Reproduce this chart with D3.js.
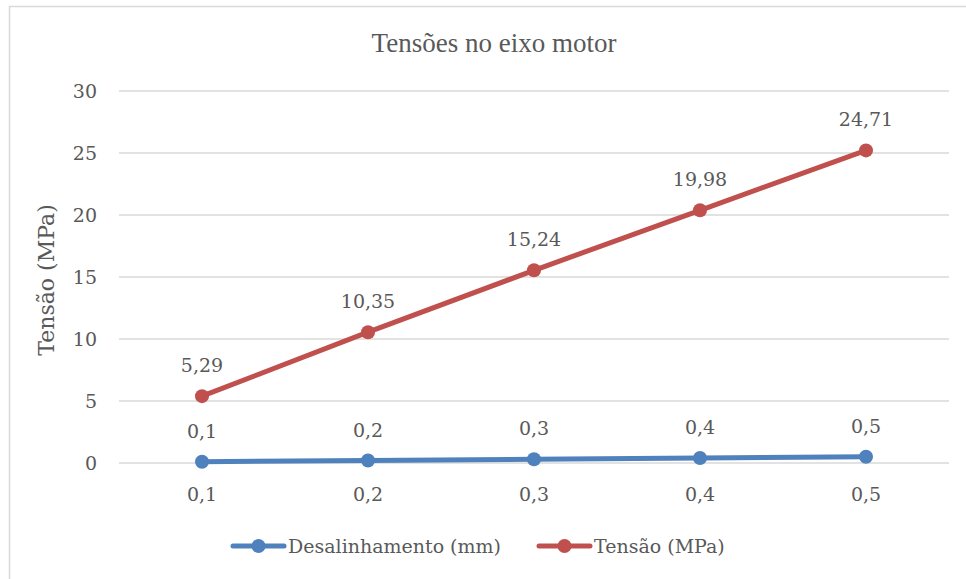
<!DOCTYPE html>
<meta charset="utf-8">
<script src="https://d3js.org/d3.v7.min.js"></script>
<style>
  body { margin: 0; background: #fff; }
  text { fill: #595959; }
</style>
<div id="chart"></div>
<script>
// data
const categories = ["0,1", "0,2", "0,3", "0,4", "0,5"];
const desalinhamento = [0.1, 0.2, 0.3, 0.4, 0.5];
const tensao = [5.29, 10.35, 15.24, 19.98, 24.71];
const yTicks = [0, 5, 10, 15, 20, 25, 30];
const seriesNames = ["Desalinhamento (mm)", "Tensão (MPa)"];
const colors = ["#4F81BD", "#C0504D"];

const W = 966, H = 579;
const margin = {top: 91, left: 119, right: 17, bottom: 116};
const width = W - margin.left - margin.right,
      height = H - margin.top - margin.bottom;

const svg = d3.select("#chart").append("svg")
    .attr("width", W).attr("height", H);

// chart frame (only top and left visible)
svg.append("rect")
    .attr("x", 9.5).attr("y", 6.5)
    .attr("width", 980).attr("height", 600)
    .attr("fill", "none").attr("stroke", "#d9d9d9").attr("stroke-width", 1.5);

svg.append("text")
    .attr("x", 494).attr("y", 52)
    .attr("text-anchor", "middle")
    .style("font-family", "Liberation Serif")
    .style("font-size", "27px")
    .text("Tensões no eixo motor");

const g = svg.append("g").attr("transform", `translate(${margin.left},${margin.top})`);

const x = d3.scaleBand().domain(categories).range([0, width]);
const y = d3.scaleLinear().domain([0, 30]).range([height, 0]);

// gridlines
g.selectAll(".grid").data(yTicks).join("line")
    .attr("x1", 0).attr("x2", width)
    .attr("y1", d => y(d)).attr("y2", d => y(d))
    .attr("stroke", "#d9d9d9").attr("stroke-width", 1.3);

const font = "DejaVu Serif";

// y tick labels
g.selectAll(".ytick").data(yTicks).join("text")
    .attr("x", -22).attr("y", d => y(d))
    .attr("dy", "0.36em")
    .attr("text-anchor", "end")
    .style("font-family", font).style("font-size", "19px")
    .text(d => d);

// x tick labels
g.selectAll(".xtick").data(categories).join("text")
    .attr("x", d => x(d) + x.bandwidth() / 2)
    .attr("y", height + 38)
    .attr("text-anchor", "middle")
    .style("font-family", font).style("font-size", "19px")
    .text(d => d);

// y axis title
svg.append("text")
    .attr("transform", "translate(54,280) rotate(-90)")
    .attr("text-anchor", "middle")
    .style("font-family", font).style("font-size", "22px")
    .text("Tensão (MPa)");

// stacked lines
const rows = categories.map((c, i) => ({cat: c, d: desalinhamento[i], t: tensao[i]}));
const stacked = d3.stack().keys(["d", "t"])(rows);
const labels = [desalinhamento, tensao];

const line = d3.line()
    .x(d => x(d.data.cat) + x.bandwidth() / 2)
    .y(d => y(d[1]));

stacked.forEach((s, k) => {
  g.append("path").datum(s)
      .attr("d", line)
      .attr("fill", "none")
      .attr("stroke", colors[k])
      .attr("stroke-width", 5)
      .attr("stroke-linecap", "round");
  g.selectAll(".pt" + k).data(s).join("circle")
      .attr("cx", d => x(d.data.cat) + x.bandwidth() / 2)
      .attr("cy", d => y(d[1]))
      .attr("r", 7)
      .attr("fill", colors[k]);
  g.selectAll(".lb" + k).data(s).join("text")
      .attr("x", d => x(d.data.cat) + x.bandwidth() / 2)
      .attr("y", d => y(d[1]) - 24)
      .attr("text-anchor", "middle")
      .style("font-family", font).style("font-size", "19px")
      .text((d, i) => String(labels[k][i]).replace(".", ","));
});

// legend
const legendX = [233, 539];
seriesNames.forEach((name, k) => {
  const lg = svg.append("g").attr("transform", `translate(${legendX[k]},546)`);
  lg.append("line").attr("x1", 0).attr("x2", 51)
      .attr("stroke", colors[k]).attr("stroke-width", 5).attr("stroke-linecap", "round");
  lg.append("circle").attr("cx", 25.5).attr("r", 7).attr("fill", colors[k]);
  lg.append("text").attr("x", 55).attr("dy", "0.36em")
      .style("font-family", font).style("font-size", "19px")
      .text(name);
});
</script>
